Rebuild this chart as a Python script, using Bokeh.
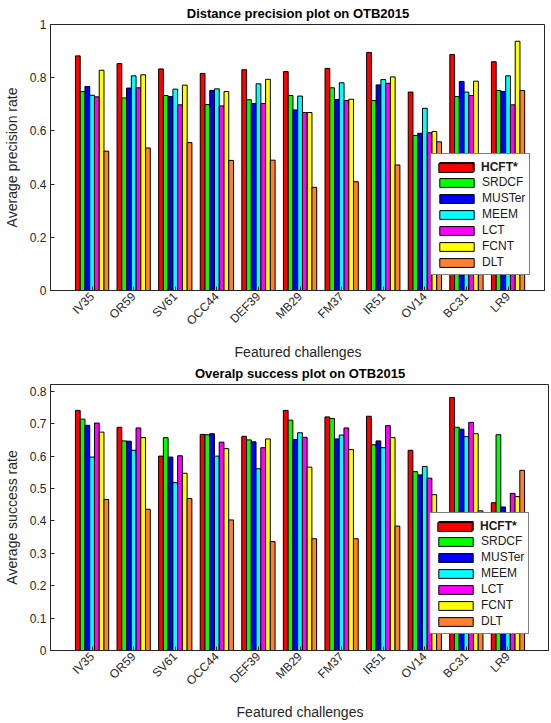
import numpy as np
from bokeh.plotting import figure
from bokeh.models import Legend, LegendItem, FixedTicker, Range1d
from bokeh.layouts import column
from bokeh.embed import file_html
from bokeh.resources import INLINE

challenges = ["IV35", "OR59", "SV61", "OCC44", "DEF39", "MB29", "FM37", "IR51", "OV14", "BC31", "LR9"]
trackers = ["HCFT*", "SRDCF", "MUSTer", "MEEM", "LCT", "FCNT", "DLT"]
colors = ["#FF0000", "#00FF00", "#0000FF", "#00FFFF", "#FF00FF", "#FFFF00", "#FF8033"]

# Distance precision (top chart)
prec_hcft = [0.882, 0.853, 0.833, 0.816, 0.830, 0.823, 0.835, 0.895, 0.746, 0.887, 0.860]
prec_srdcf = [0.748, 0.724, 0.733, 0.699, 0.717, 0.733, 0.762, 0.714, 0.583, 0.729, 0.752]
prec_muster = [0.767, 0.761, 0.729, 0.752, 0.703, 0.679, 0.718, 0.773, 0.591, 0.786, 0.748]
prec_meem = [0.734, 0.807, 0.757, 0.758, 0.777, 0.731, 0.781, 0.793, 0.685, 0.746, 0.807]
prec_lct = [0.728, 0.762, 0.698, 0.694, 0.703, 0.669, 0.714, 0.779, 0.593, 0.733, 0.698]
prec_fcnt = [0.828, 0.811, 0.772, 0.748, 0.794, 0.669, 0.719, 0.803, 0.598, 0.787, 0.937]
prec_dlt = [0.524, 0.536, 0.556, 0.489, 0.490, 0.388, 0.409, 0.472, 0.559, 0.515, 0.752]

# Overlap success (bottom chart)
succ_hcft = [0.741, 0.689, 0.600, 0.667, 0.661, 0.741, 0.721, 0.723, 0.618, 0.781, 0.456]
succ_srdcf = [0.714, 0.647, 0.657, 0.666, 0.650, 0.711, 0.716, 0.635, 0.552, 0.689, 0.666]
succ_muster = [0.695, 0.646, 0.597, 0.669, 0.644, 0.651, 0.653, 0.647, 0.542, 0.683, 0.443]
succ_meem = [0.597, 0.618, 0.518, 0.600, 0.561, 0.672, 0.665, 0.626, 0.568, 0.660, 0.390]
succ_lct = [0.702, 0.687, 0.601, 0.643, 0.626, 0.658, 0.687, 0.694, 0.532, 0.704, 0.485]
succ_fcnt = [0.674, 0.657, 0.547, 0.623, 0.653, 0.566, 0.620, 0.657, 0.481, 0.669, 0.475]
succ_dlt = [0.466, 0.436, 0.469, 0.403, 0.336, 0.345, 0.345, 0.384, 0.418, 0.431, 0.556]

prec_ticks = [0, 0.2, 0.4, 0.6, 0.8, 1.0]
succ_ticks = [0, 0.1, 0.2, 0.3, 0.4, 0.5, 0.6, 0.7, 0.8]

FONT = "Liberation Sans"
AX = "#262626"


def make_chart(title, ylabel, series, ymax, yticks, xmax, left_border, legend_loc, bottom_border):
    p = figure(output_backend="svg", toolbar_location=None,
               frame_width=int(round((xmax) * 41.6)), frame_height=266,
               x_range=Range1d(0, xmax), y_range=Range1d(0, ymax),
               min_border_left=left_border, min_border_right=0,
               min_border_top=0, min_border_bottom=bottom_border)
    p.title.text = title
    p.title.align = "center"
    p.title.text_font = FONT
    p.title.text_font_size = "13px"
    p.title.text_font_style = "bold"
    p.title.text_color = "black"
    p.title.standoff = 7
    p.xgrid.visible = False
    p.ygrid.visible = False
    p.outline_line_color = AX
    p.outline_line_alpha = 1
    p.outline_line_width = 1

    n = len(series)
    w = 0.8 / n
    base = np.arange(1, len(challenges) + 1)
    renderers = []
    for i, (vals, col) in enumerate(zip(series, colors)):
        xs = base + (i - (n - 1) / 2) * w
        r = p.vbar(x=xs, top=vals, width=w, bottom=0, fill_color=col,
                   line_color="black", line_width=1)
        renderers.append(r)

    xa = p.xaxis[0]
    xa.ticker = FixedTicker(ticks=list(base))
    xa.major_label_overrides = {int(b): c for b, c in zip(base, challenges)}
    xa.major_label_orientation = np.pi / 4
    xa.axis_label = "Featured challenges"
    ya = p.yaxis[0]
    ya.ticker = FixedTicker(ticks=yticks)
    ya.axis_label = ylabel
    for ax in (xa, ya):
        ax.major_tick_in = 4
        ax.major_tick_out = 0
        ax.minor_tick_line_color = None
        ax.axis_line_color = AX
        ax.major_tick_line_color = AX
        ax.major_label_text_font = FONT
        ax.major_label_text_font_size = "12px"
        ax.major_label_text_color = AX
        ax.axis_label_text_font = FONT
        ax.axis_label_text_font_size = "14px"
        ax.axis_label_text_font_style = "normal"
        ax.axis_label_text_color = AX
        ax.major_label_standoff = 4
    ya.axis_label_standoff = 7
    xa.axis_label_standoff = 8

    # main legend (first label blank; bold label drawn by overlay legend)
    items = [LegendItem(label="\u00a0" if i == 0 else t, renderers=[r])
             for i, (t, r) in enumerate(zip(trackers, renderers))]
    common = dict(padding=4, spacing=0, glyph_width=43, glyph_height=11,
                  label_height=16, label_standoff=4, margin=0,
                  label_text_font=FONT, label_text_font_size="12px",
                  label_text_color="#1a1a1a")
    vx, vy = legend_loc
    leg = Legend(items=items, location=(vx, vy), border_line_color="black",
                 border_line_width=1, background_fill_color="white",
                 background_fill_alpha=1, **common)
    p.add_layout(leg)
    over = Legend(items=[LegendItem(label=trackers[0], renderers=[renderers[0]])],
                  location=(vx, vy + 16 * (len(trackers) - 1)),
                  border_line_alpha=0, background_fill_alpha=0,
                  label_text_font_style="bold", **common)
    p.add_layout(over)
    return p


p1 = make_chart("Distance precision plot on OTB2015", "Average precision rate",
                [prec_hcft, prec_srdcf, prec_muster, prec_meem, prec_lct, prec_fcnt, prec_dlt],
                1.0, prec_ticks, 11.9, 46, (380, 15), 78)
p2 = make_chart("Overalp success plot on OTB2015", "Average success rate",
                [succ_hcft, succ_srdcf, succ_muster, succ_meem, succ_lct, succ_fcnt, succ_dlt],
                0.821, succ_ticks, 12.0, 43, (379, 16), 68)
p2.margin = (-8, 0, 0, 0)

layout = column(p1, p2, spacing=0)
open("out.html", "w").write(file_html(layout, INLINE))
